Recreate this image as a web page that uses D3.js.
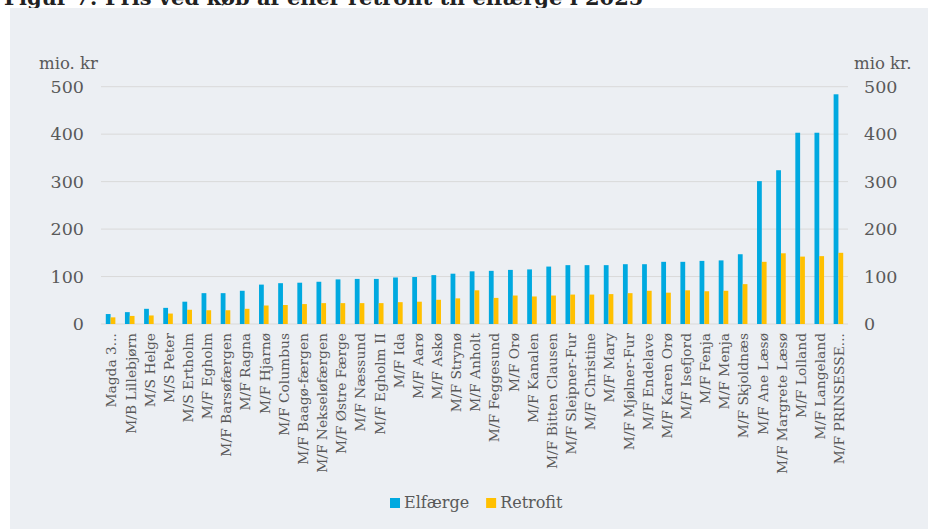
<!DOCTYPE html>
<html>
<head>
<meta charset="utf-8">
<script src="https://cdn.jsdelivr.net/npm/d3@7"></script>
<style>
  body { margin: 0; background: #fff; }
  svg { display: block; }
  svg text { font-family: "DejaVu Serif", Georgia, serif; }
</style>
</head>
<body>
<div id="chart"></div>
<script>
// Data (mio. kr)
const ferries = ["Magda 3...", "M/B Lillebjørn", "M/S Helge", "M/S Peter", "M/S Ertholm",
  "M/F Egholm", "M/F Barsøfærgen", "M/F Ragna", "M/F Hjarnø", "M/F Columbus",
  "M/F Baagø-færgen", "M/F Nekseløfærgen", "M/F Østre Færge", "M/F Næssund", "M/F Egholm II",
  "M/F Ida", "M/F Aarø", "M/F Askø", "M/F Strynø", "M/F Anholt",
  "M/F Feggesund", "M/F Orø", "M/F Kanalen", "M/F Bitten Clausen", "M/F Sleipner-Fur",
  "M/F Christine", "M/F Mary", "M/F Mjølner-Fur", "M/F Endelave", "M/F Karen Orø",
  "M/F Isefjord", "M/F Fenja", "M/F Menja", "M/F Skjoldnæs", "M/F Ane Læsø",
  "M/F Margrete Læsø", "M/F Lolland", "M/F Langeland", "M/F PRINSESSE..."];
const elfaerge = [21, 25, 32, 34, 47, 65, 65, 70, 83, 86,
  87, 89, 94, 95, 95, 98, 99, 103, 106, 111,
  112, 114, 115, 121, 124, 124, 124, 126, 126, 131,
  131, 133, 134, 147, 301, 324, 403, 403, 484];
const retrofit = [14, 17, 18, 22, 30, 29, 29, 32, 39, 40,
  42, 44, 44, 44, 44, 46, 47, 51, 54, 71,
  55, 60, 58, 60, 62, 62, 63, 65, 70, 66,
  71, 69, 70, 84, 131, 149, 142, 143, 150];
const seriesNames = ["Elfærge", "Retrofit"];
const seriesColors = ["#00A9E0", "#FFC000"];
const yTicks = [0, 100, 200, 300, 400, 500];

const width = 928, height = 529;
const margin = { top: 86.7, right: 80, bottom: 205, left: 101 };

const svg = d3.select("#chart").append("svg")
    .attr("width", width)
    .attr("height", height);

// title (cut off at the top in the source)
svg.append("text")
    .attr("x", 4)
    .attr("y", 5)
    .attr("font-size", 21)
    .attr("font-weight", "bold")
    .attr("fill", "#222")
    .text("Figur 7: Pris ved køb af eller retrofit til elfærge i 2025");

svg.append("rect")
    .attr("x", 10)
    .attr("y", 8)
    .attr("width", width - 10)
    .attr("height", height - 8)
    .attr("fill", "#ECEFF3");

const x = d3.scaleBand()
    .domain(ferries)
    .range([margin.left, 848])
    .paddingInner(0.5)
    .paddingOuter(0.25);

const x1 = d3.scaleBand()
    .domain(seriesNames)
    .range([0, x.bandwidth()]);

const y = d3.scaleLinear()
    .domain([0, 500])
    .range([324, margin.top]);

// gridlines
svg.append("g")
  .selectAll("line")
  .data(yTicks)
  .join("line")
    .attr("x1", margin.left)
    .attr("x2", 848)
    .attr("y1", d => y(d))
    .attr("y2", d => y(d))
    .attr("stroke", "#D9D9D9")
    .attr("stroke-width", 1);

// left and right axes
const axisL = svg.append("g")
    .attr("transform", `translate(${margin.left},0)`)
    .call(d3.axisLeft(y).tickValues(yTicks).tickSize(0).tickPadding(17));
const axisR = svg.append("g")
    .attr("transform", `translate(848,0)`)
    .call(d3.axisRight(y).tickValues(yTicks).tickSize(0).tickPadding(16));
[axisL, axisR].forEach(a => {
  a.select(".domain").remove();
  a.selectAll("text")
      .attr("font-size", 17.5)
      .attr("fill", "#595959");
});

svg.append("text")
    .attr("x", 39)
    .attr("y", 69)
    .attr("font-size", 16.5)
    .attr("fill", "#595959")
    .text("mio. kr");
svg.append("text")
    .attr("x", 854)
    .attr("y", 69)
    .attr("font-size", 16.5)
    .attr("fill", "#595959")
    .text("mio kr.");

// bars
const data = ferries.map((f, i) => ({ name: f, values: [elfaerge[i], retrofit[i]] }));
const group = svg.append("g")
  .selectAll("g")
  .data(data)
  .join("g")
    .attr("transform", d => `translate(${x(d.name)},0)`);

group.selectAll("rect")
  .data(d => d.values.map((v, k) => ({ key: seriesNames[k], value: v, color: seriesColors[k] })))
  .join("rect")
    .attr("x", d => x1(d.key))
    .attr("y", d => y(d.value))
    .attr("width", x1.bandwidth())
    .attr("height", d => y(0) - y(d.value))
    .attr("fill", d => d.color);

// category labels
svg.append("g")
  .selectAll("text")
  .data(ferries)
  .join("text")
    .attr("transform", d => `translate(${x(d) + x.bandwidth() / 2 + 1},${333}) rotate(-90)`)
    .attr("text-anchor", "end")
    .attr("dy", "0.35em")
    .attr("font-size", 13.8)
    .attr("fill", "#595959")
    .text(d => d);

// legend
const legend = svg.append("g")
    .attr("transform", "translate(390,508)");
let lx = 0;
seriesNames.forEach((s, k) => {
  legend.append("rect")
      .attr("x", lx)
      .attr("y", -10)
      .attr("width", 10)
      .attr("height", 10)
      .attr("fill", seriesColors[k]);
  const t = legend.append("text")
      .attr("x", lx + 14)
      .attr("y", 0)
      .attr("font-size", 16)
      .attr("fill", "#595959")
      .text(s);
  lx += 14 + t.node().getComputedTextLength() + 17;
});
</script>
</body>
</html>
